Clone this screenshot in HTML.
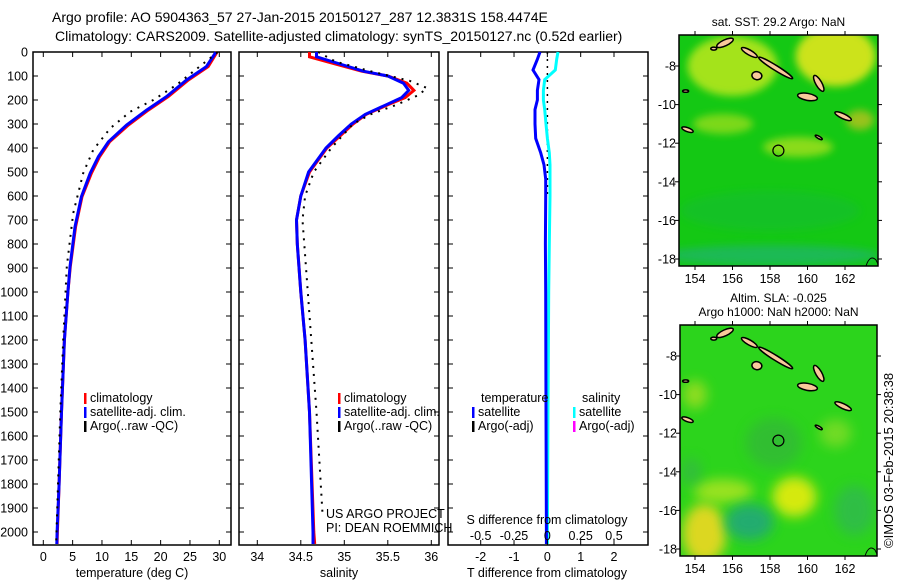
<!DOCTYPE html>
<html><head><meta charset="utf-8">
<style>
body{margin:0;background:#fff;}
svg text{font-family:"Liberation Sans",sans-serif;fill:#000;}
</style></head>
<body>
<svg id="fig" width="900" height="580" viewBox="0 0 900 580" xmlns="http://www.w3.org/2000/svg">
<text x="52" y="22" font-size="14">Argo profile: AO 5904363_57 27-Jan-2015 20150127_287 12.3831S 158.4474E</text>
<text x="55" y="41" font-size="14">Climatology: CARS2009. Satellite-adjusted climatology: synTS_20150127.nc (0.52d earlier)</text>
<g id="plots"></g>
<text transform="translate(893,548) rotate(-90)" font-size="13">©IMOS 03-Feb-2015 20:38:38</text>
</svg>
<script>
// ---- data ----
const tDepth=[0,5,61,117,186,242,304,374,436,505,603,728,894,1000,1200,1500,1800,2000,2050];
const tClim=[29.6,29.5,28.1,24.7,21.3,17.9,14.5,11.3,9.6,8.2,6.6,5.5,4.6,4.2,3.6,3.1,2.7,2.4,2.35];
const tSat=[29.4,29.3,27.8,24.4,21.0,17.6,14.2,11.1,9.4,8.0,6.5,5.4,4.55,4.2,3.6,3.1,2.7,2.35,2.3];
const tArgoDepth=[0,5,137,200,249,318,408,505,672,894,1200,1500,1800,2000,2040];
const tArgo=[29.7,29.5,22.7,18.75,14.8,11.4,8.5,6.8,5.1,4.0,3.4,2.9,2.5,2.25,2.2];
const sDepth=[0,20,50,80,100,130,160,190,220,260,300,350,400,450,500,600,700,800,1000,1200,1500,2000,2050];
const sClim=[34.6,34.6,34.9,35.2,35.5,35.72,35.8,35.7,35.5,35.25,35.1,34.95,34.8,34.7,34.6,34.5,34.45,34.46,34.5,34.55,34.6,34.65,34.66];
const sSat=[34.68,34.68,34.95,35.22,35.5,35.68,35.74,35.66,35.48,35.24,35.08,34.93,34.79,34.69,34.59,34.5,34.45,34.46,34.5,34.55,34.6,34.64,34.64];
const sArgoDepth=[0,40,80,120,150,180,220,260,300,400,500,600,700,1000,1500,1930];
const sArgo=[34.7,34.9,35.3,35.75,35.95,35.85,35.6,35.3,35.1,34.85,34.65,34.55,34.52,34.58,34.68,34.75];
const dDepth=[0,30,75,115,160,200,240,300,360,420,470,530,600,800,1000,1500,2000,2050];
const dT=[-0.22,-0.3,-0.43,-0.25,-0.3,-0.3,-0.37,-0.37,-0.35,-0.2,-0.1,-0.05,-0.05,-0.06,-0.05,-0.04,-0.03,-0.03];
const dS=[0.08,0.07,0.06,-0.02,-0.03,-0.03,-0.02,-0.01,0.0,0.015,0.02,0.02,0.02,0.015,0.01,0.005,0.0,0.0];
const depthTicks=[0,100,200,300,400,500,600,700,800,900,1000,1100,1200,1300,1400,1500,1600,1700,1800,1900,2000];
const tTicks=[0,5,10,15,20,25,30];
const sTicks=[34,34.5,35,35.5,36];
const sTickLabels=["34","34.5","35","35.5","36"];
const dTTicks=[-2,-1,0,1,2];
const dSTicks=[-0.5,-0.25,0,0.25,0.5];
const dSTickLabels=["-0.5","-0.25","0","0.25","0.5"];
const lonTicks=[154,156,158,160,162];
const latTicks=[-8,-10,-12,-14,-16,-18];

const NS="http://www.w3.org/2000/svg";
const root=document.getElementById('plots');
function mk(tag,attrs,parent){const e=document.createElementNS(NS,tag);for(const k in attrs)e.setAttribute(k,attrs[k]);(parent||root).appendChild(e);return e;}
const Y=d=>52+d*0.24;
const TOP=52, BOT=545;
function lin(d0,d1,p0,p1){return v=>p0+(v-d0)*(p1-p0)/(d1-d0);}

function panel(name,x0,x1){
  const g=mk('g',{});
  
  
  const r=mk('rect',{x:x0,y:TOP,width:x1-x0,height:BOT-TOP,fill:'none',stroke:'#000','stroke-width':1.5},g);
  
  
  depthTicks.forEach(d=>{const y=Y(d);
    mk('line',{x1:x0,x2:x0+5,y1:y,y2:y,stroke:'#000'},g);
    mk('line',{x1:x1-5,x2:x1,y1:y,y2:y,stroke:'#000'},g);});
  return g;
}
function xticks(g,x0,x1,ticks,X,labels,ly){
  ticks.forEach((t,i)=>{const x=X(t);
    mk('line',{x1:x,x2:x,y1:BOT,y2:BOT-5,stroke:'#000'},g);
    mk('line',{x1:x,x2:x,y1:TOP,y2:TOP+5,stroke:'#000'},g);
    if(labels){const tx=mk('text',{x:x,y:ly,'font-size':12.5,'text-anchor':'middle'},g);tx.textContent=labels[i];
      
      }
  });
}
function line(g,xs,ds,X,color,w,dash,name){
  const pts=xs.map((v,i)=>X(v).toFixed(1)+','+Y(ds[i]).toFixed(1)).join(' ');
  const p=mk('polyline',{points:pts,fill:'none',stroke:color,'stroke-width':w},g);
  if(dash)p.setAttribute('stroke-dasharray',dash);
  
  
}
function txt(g,x,y,s,size,name,anchor){const t=mk('text',{x:x,y:y,'font-size':size||12.5,'text-anchor':anchor||'start'},g);t.textContent=s;
  
  return t;}
function legend(g,x,y,items){items.forEach((it,i)=>{const yy=y+i*14;
  mk('rect',{x:x,y:yy-9,width:2.5,height:11,fill:it[1]},g);
  txt(g,x+6,yy,it[0],12.5,'legend-entry');});}

// ---- temperature panel ----
{const x0=33,x1=231;const X=lin(0,30,43.3,219.3);const g=panel('temperature-panel',x0,x1);
 line(g,tClim,tDepth,X,'#f00',3,null,'temp-climatology-line');
 line(g,tSat,tDepth,X,'#00f',3,null,'temp-satellite-line');
 line(g,tArgo,tArgoDepth,X,'#000',2,'2 6','temp-argo-line');
 xticks(g,x0,x1,tTicks,X,tTicks.map(String),561);
 depthTicks.forEach(d=>txt(g,28,Y(d)+4.5,String(d),12.5,'y-tick-label','end'));
 txt(g,132,577,'temperature (deg C)',12.5,'x-axis-title','middle');
 legend(g,84,402,[['climatology','#f00'],['satellite-adj. clim.','#00f'],['Argo(..raw -QC)','#000']]);}
// ---- salinity panel ----
{const x0=239,x1=439;const X=lin(34,36,257.3,431.3);const g=panel('salinity-panel',x0,x1);
 line(g,sClim,sDepth,X,'#f00',3,null,'sal-climatology-line');
 line(g,sSat,sDepth,X,'#00f',3,null,'sal-satellite-line');
 line(g,sArgo,sArgoDepth,X,'#000',2,'2 6','sal-argo-line');
 xticks(g,x0,x1,sTicks,X,sTickLabels,561);
 txt(g,339,577,'salinity',12.5,'x-axis-title','middle');
 legend(g,338,402,[['climatology','#f00'],['satellite-adj. clim.','#00f'],['Argo(..raw -QC)','#000']]);
 txt(g,326,518,'US ARGO PROJECT',12.5,'pi-project-label');
 txt(g,326,532,'PI: DEAN ROEMMICH',12.5,'pi-name-label');}
// ---- difference panel ----
{const x0=448,x1=648;const X=lin(-2,2,480.7,614);const XS=lin(-0.5,0.5,480.7,614);const g=panel('difference-panel',x0,x1);
 line(g,[0,0],[0,600],X,'#000',1.5,'2 5','argo-adj-zero-line');
 line(g,dS,dDepth,XS,'#0ff',3,null,'sal-diff-line');
 line(g,dT,dDepth,X,'#00f',3,null,'temp-diff-line');
 xticks(g,x0,x1,dTTicks,X,dTTicks.map(v=>v<0?'-'+(-v):String(v)),561);
 dSTicks.forEach((t,i)=>txt(g,XS(t),540,dSTickLabels[i],12.5,'s-tick-label','middle'));
 txt(g,547,524,'S difference from climatology',12.5,'s-axis-title','middle');
 txt(g,547,577,'T difference from climatology',12.5,'x-axis-title','middle');
 txt(g,481,402,'temperature',12.5,'legend-title-temp');
 txt(g,582,402,'salinity',12.5,'legend-title-sal');
 legend(g,472,416,[['satellite','#00f'],['Argo(-adj)','#000']]);
 legend(g,573,416,[['satellite','#0ff'],['Argo(-adj)','#f0f']]);}

// ---- maps ----
function map(name,x0,y0,x1,y1,title,bg,blobs,sd){
  const g=mk('g',{});
  
  
  const LX=lin(154,162,695,845);const LY=lin(-8,-18,y0+31,y0+224*(y1-y0)/231);
  const id=name+'-clip';
  const f=mk('filter',{id:name+'-blur',x:'-50%',y:'-50%',width:'200%',height:'200%'},g);mk('feGaussianBlur',{stdDeviation:sd},f);
  const cp=mk('clipPath',{id:id},g);mk('rect',{x:x0,y:y0,width:x1-x0,height:y1-y0},cp);
  const inner=mk('g',{'clip-path':'url(#'+id+')'},g);
  mk('rect',{x:x0,y:y0,width:x1-x0,height:y1-y0,fill:bg},inner);
  blobs.forEach(b=>{const e=mk('ellipse',{cx:LX(b[0]),cy:LY(b[1]),rx:b[2],ry:b[3],fill:b[4],opacity:b[5],filter:'url(#'+name+'-blur)'},inner);
    
    });
  const isl=[[155.6,-6.8,9,3,-25],[156.9,-7.3,9,2.5,30],[158.3,-8.1,20,2.5,32],[157.3,-8.5,5,4,10],[160.6,-8.9,3,9,-30],[160,-9.6,10,3.5,10],[161.9,-10.6,9,2.5,25],[153.6,-11.3,6,2,20],[160.6,-11.7,4,1.2,30],[153.5,-9.3,3,1.2,0],[155,-7.1,3,1.5,0]];
  isl.forEach(s=>{const e=mk('ellipse',{cx:LX(s[0]),cy:LY(s[1]),rx:s[2],ry:s[3],fill:'#f9c99b',stroke:'#000','stroke-width':1.5,transform:'rotate('+s[4]+' '+LX(s[0])+' '+LY(s[1])+')'},inner);
    
    });
  mk('path',{d:`M${x1-12},${y1} q4,-12 10,-6 l3,6`,fill:'none',stroke:'#000','stroke-width':1},inner);
  const c=mk('circle',{cx:LX(158.4474),cy:LY(-12.3831),r:5.5,fill:'none',stroke:'#000','stroke-width':1.2},g);
  
  
  mk('rect',{x:x0,y:y0,width:x1-x0,height:y1-y0,fill:'none',stroke:'#000','stroke-width':1.5},g);
  lonTicks.forEach(l=>{const x=LX(l);mk('line',{x1:x,x2:x,y1:y0,y2:y0-4,stroke:'#000'},g);mk('line',{x1:x,x2:x,y1:y1,y2:y1+4,stroke:'#000'},g);
    txt(g,x,y1+17,String(l),12.5,'lon-tick-label','middle');});
  latTicks.forEach(l=>{const y=LY(l);mk('line',{x1:x0,x2:x0-4,y1:y,y2:y,stroke:'#000'},g);mk('line',{x1:x1,x2:x1+4,y1:y,y2:y,stroke:'#000'},g);
    txt(g,x0-3,y+4.5,'-'+(-l),12.5,'lat-tick-label','end');});
  title.forEach((t,i)=>txt(g,(x0+x1)/2,y0-9-(title.length-1-i)*14,t,12,'map-title','middle'));
}
map('sst-map',679,35,878,266,['sat. SST: 29.2 Argo: NaN'],'#14c814',
 [[156,-8,45,30,'#b4e61e',0.9],[161.5,-7.5,40,30,'#e0e61a',0.9],[162.8,-10.8,14,10,'#f0c020',0.6],[159.5,-12.2,35,10,'#a8e01e',0.8],[155.5,-11,30,10,'#a8e01e',0.7],[158,-17.8,110,10,'#20b080',0.6],[158,-15.5,90,20,'#18b840',0.4]],4);
map('sla-map',680,325,877,556,['Altim. SLA: -0.025','Argo h1000: NaN h2000: NaN'],'#2cd41c',
 [[159.3,-15.3,22,20,'#e8ec10',0.9],[154.5,-17.2,22,30,'#f0d820',0.9],[155.5,-15,30,12,'#c8e820',0.7],[156.9,-16.6,24,18,'#20a878',0.9],[158.2,-12.5,28,25,'#34b040',0.6],[162.5,-16,20,25,'#30b060',0.6],[154,-10,12,14,'#b8e020',0.7],[161.5,-12,16,14,'#9ee02a',0.6],[153.8,-14,10,14,'#38b050',0.6]],6);
</script>
</body></html>
